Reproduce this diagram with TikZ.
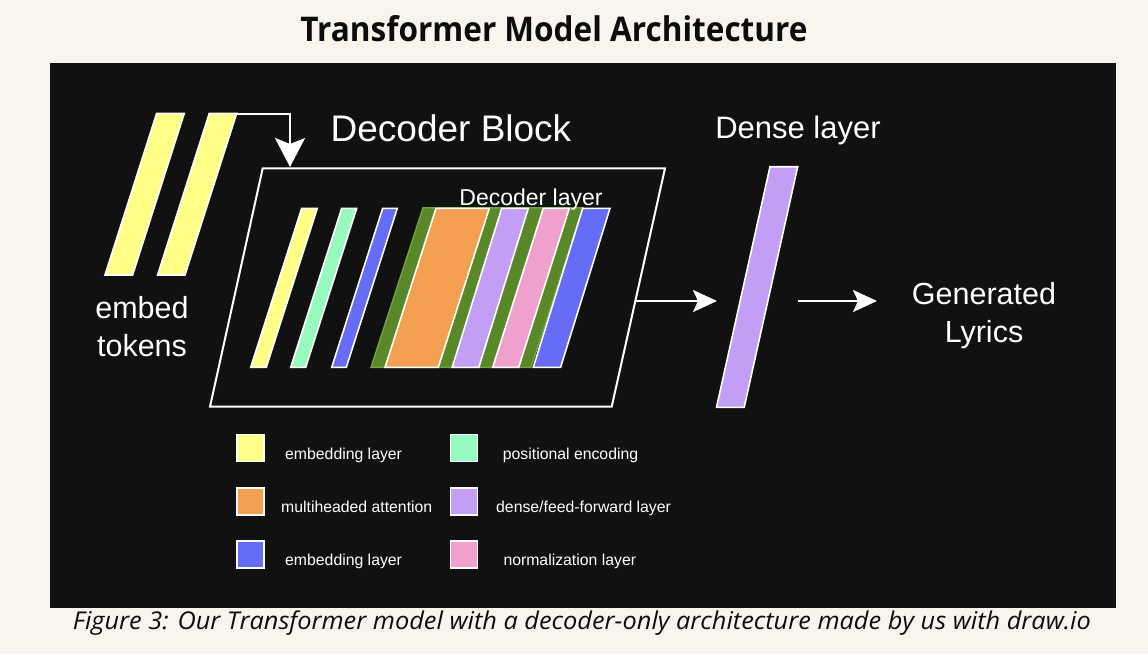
\documentclass[tikz,border=0pt]{standalone}
\usepackage{fontspec}
\usepackage{graphicx}
\setmainfont{Liberation Sans}
\newfontfamily\osans{Open Sans}
\usetikzlibrary{arrows.meta}
\definecolor{cream}{RGB}{248,245,238}
\definecolor{panel}{RGB}{17,17,17}
\definecolor{cyel}{RGB}{255,255,136}
\definecolor{cmint}{RGB}{150,250,190}
\definecolor{cblue}{RGB}{102,108,245}
\definecolor{corange}{RGB}{242,160,80}
\definecolor{cpurple}{RGB}{195,158,245}
\definecolor{cpink}{RGB}{240,160,205}
\definecolor{cgreen}{RGB}{88,136,40}
\definecolor{cgreenline}{RGB}{112,165,64}
\definecolor{ink}{RGB}{12,12,12}
% slab: style, x top-left, x top-right, y top, shift, y bottom
\newcommand{\slab}[6]{\path[#1] (#2,#4) -- (#3,#4) -- ({#3-#5},#6) -- ({#2-#5},#6) -- cycle;}
\begin{document}
\begin{tikzpicture}[x=1pt,y=-1pt,
  slabbox/.style={fill=#1, draw=white, line width=1.6pt, line join=miter},
  lbl/.style={text=white, inner sep=0pt, anchor=base},
  legtxt/.style={text=white, inner sep=0pt, anchor=base west, font=\fontsize{15.8}{17}\selectfont},
  legbox/.style={fill=#1, draw=white, line width=1.8pt, minimum size=27pt, inner sep=0pt},
  conn/.style={draw=white, line width=2pt, -{Stealth[length=24pt,width=22pt,inset=5pt]}},
  conndown/.style={draw=white, line width=2pt, -{Stealth[length=29pt,width=30pt,inset=6pt]}}]
\useasboundingbox[fill=cream] (0,0) rectangle (1148,654);
\fill[panel] (50,62.7) rectangle (1115.7,608.3);

% title and caption
\node[anchor=base, inner sep=0pt, text=ink] (title) at (554,41)
  {\resizebox{507pt}{\height}{\osans\bfseries\fontsize{34}{38}\selectfont Transformer Model Architecture}};
\node[anchor=base, inner sep=0pt, text=ink] (caption) at (582,629.3)
  {\resizebox{1018pt}{\height}{\osans\itshape\fontsize{24.5}{28}\selectfont Figure 3: Our Transformer model with a decoder-only architecture made by us with draw.io}};

% embed tokens
\slab{slabbox=cyel}{156.7}{184.3}{113.3}{51.7}{275}
\slab{slabbox=cyel}{209.3}{236.7}{113.3}{51.7}{275}
\node[lbl, font=\fontsize{30.5}{36}\selectfont] (embed) at (142,318.3) {embed};
\node[lbl, font=\fontsize{30.5}{36}\selectfont] (tokens) at (142,356.7) {tokens};

% decoder block
\path[draw=white, line width=2pt] (262.7,168.3) -- (665,168.3) -- (611.7,406.7) -- (210,406.7) -- cycle;
\node[lbl, font=\fontsize{37}{40}\selectfont] (blocklabel) at (451,141) {Decoder Block};

% inner stripes
\slab{slabbox=cyel}{301.7}{317.3}{208.3}{51}{367.3}
\slab{slabbox=cmint}{341.7}{356.7}{208.3}{51}{367.3}
\slab{slabbox=cblue}{382.7}{397.3}{208.3}{51}{367.3}
\slab{fill=cgreen, draw=cgreenline, line width=1.4pt}{423}{583}{207.8}{52}{367.3}
\slab{slabbox=corange}{436}{489.3}{208.3}{51}{367.3}
\slab{slabbox=cpurple}{501.7}{528.3}{208.3}{49.5}{367.3}
\slab{slabbox=cpink}{543.3}{569.3}{208.3}{50.6}{367.3}
\slab{slabbox=cblue}{582.7}{610}{208.3}{49.4}{367.3}
\node[lbl, font=\fontsize{23}{26}\selectfont] (layerlabel) at (531,205) {Decoder layer};

% dense layer
\slab{slabbox=cpurple}{770}{797.7}{166.7}{53.5}{407.3}
\node[lbl, font=\fontsize{31}{34}\selectfont] (denselabel) at (798,138.3) {Dense layer};

% output
\node[lbl, font=\fontsize{30.5}{34}\selectfont] (gen) at (984,304) {Generated};
\node[lbl, font=\fontsize{30.5}{34}\selectfont] (lyr) at (984,342.7) {Lyrics};

% connectors
\coordinate (tokTR) at (236.7,114);
\coordinate (blockTop) at (290,167);
\coordinate (blockE) at (636,301);
\coordinate (denseW) at (717,301);
\coordinate (denseE) at (798,301);
\coordinate (genW) at (877,301);
\draw[conndown] (tokTR) -| (blockTop);
\draw[conn] (blockE) -- (denseW);
\draw[conn] (denseE) -- (genW);

% legend
\node[legbox=cyel] (l1) at (250.5,448) {};
\node[legbox=corange] (l2) at (250.5,501.2) {};
\node[legbox=cblue] (l3) at (250.5,554.5) {};
\node[legbox=cmint] (l4) at (464,448) {};
\node[legbox=cpurple] (l5) at (464,501.2) {};
\node[legbox=cpink] (l6) at (464,554.5) {};
\node[legtxt] (t1) at (285,459.3) {embedding layer};
\node[legtxt] (t2) at (281,512.7) {multiheaded attention};
\node[legtxt] (t3) at (285,565.7) {embedding layer};
\node[legtxt] (t4) at (502.7,459.3) {positional encoding};
\node[legtxt] (t5) at (496,512.7) {dense/feed-forward layer};
\node[legtxt] (t6) at (503.3,565.7) {normalization layer};
\end{tikzpicture}
\end{document}
